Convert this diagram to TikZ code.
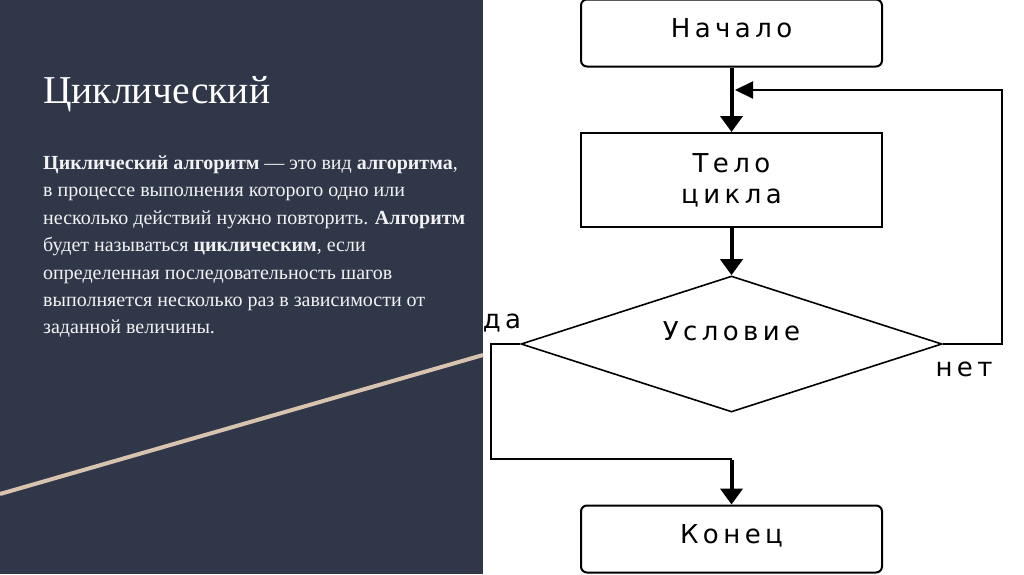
\documentclass[tikz,border=0pt]{standalone}
\usepackage{fontspec}
\setmainfont{Liberation Serif}
\newfontfamily\flowfont[LetterSpace=17]{DejaVu Sans}
\usetikzlibrary{shapes.geometric,arrows.meta}
\definecolor{slate}{HTML}{2F3749}
\definecolor{sand}{HTML}{D8C3AF}
\definecolor{ink}{HTML}{F2F2F2}

\begin{document}
\begin{tikzpicture}[x=1pt, y=-1pt,
  term/.style={draw=black, line width=2pt, rounded corners=6pt, minimum width=301pt,
    minimum height=67pt, inner sep=0pt, font=\flowfont\fontsize{26}{30}\selectfont},
  proc/.style={draw=black, line width=2pt, minimum width=301pt, minimum height=94pt,
    inner sep=0pt, align=center, font=\flowfont\fontsize{26}{31}\selectfont},
  decision/.style={diamond, aspect=3, draw=black, line width=1.6pt, minimum width=421pt,
    minimum height=136pt, inner sep=0pt, font=\flowfont\fontsize{26}{30}\selectfont},
  flow/.style={line width=4pt, -{Triangle[width=22pt,length=16pt]}},
  back/.style={line width=2pt},
  backtip/.style={line width=2pt, -{Triangle[width=17pt,length=18pt]}},
  lbl/.style={inner sep=0pt, font=\flowfont\fontsize{26}{30}\selectfont},
  ptext/.style={anchor=base west, inner sep=0pt, text=ink, font=\fontsize{20}{24}\selectfont},
  ]
  \useasboundingbox (0,0) rectangle (1024,574);

  %%% left panel and accent stripe %%%
  \fill[white] (483,0) rectangle (1024,574);
  \fill[slate] (0,0) rectangle (483,574);
  \draw[sand, line width=4pt] (0,494) -- (483,355);

  %%% heading and definition text %%%
  \node[anchor=base west, inner sep=0pt, text=white, font=\fontsize{39.5}{44}\selectfont]
    (title) at (43,103) {Циклический};
  \node[ptext] (p1) at (43,169) {\textbf{Циклический алгоритм} — это вид \textbf{алгоритма},};
  \node[ptext] (p2) at (43,196.5) {в процессе выполнения которого одно или};
  \node[ptext] (p3) at (43,224) {несколько действий нужно повторить. \textbf{Алгоритм}};
  \node[ptext] (p4) at (43,251.5) {будет называться \textbf{циклическим}, если};
  \node[ptext] (p5) at (43,279) {определенная последовательность шагов};
  \node[ptext] (p6) at (43,306) {выполняется несколько раз в зависимости от};
  \node[ptext] (p7) at (43,333.5) {заданной величины.};

  %%% flowchart blocks %%%
  \node[term] (start) at (731.5,33) {\raisebox{10pt}{Начало}};
  \node[proc] (body) at (731.5,180) {Тело\\цикла};
  \node[decision] (cond) at (731.5,344) {\raisebox{26pt}{Условие}};
  \node[term] (stop) at (731.5,539) {\raisebox{10pt}{Конец}};

  %%% branch labels %%%
  \node[lbl] (yes) at (502,323) {да};
  \node[lbl] (no) at (964,369) {нет};

  %%% helper points for the branches %%%
  \coordinate (merge) at (735,90);
  \coordinate (nocorner) at (1002,90);
  \coordinate (yescorner) at (491,459);
  \coordinate (join) at (731.5,459);

  %%% connectors %%%
  \draw[flow] (start.south) -- (body.north);
  \draw[flow] (body.south) -- (cond.north);
  \draw[back] (cond.west) -| (yescorner) -- (join);
  \draw[flow] ([yshift=-1pt]join) -- (stop.north);
  \draw[backtip] (cond.east) -| (nocorner) -- (merge);
\end{tikzpicture}
\end{document}
